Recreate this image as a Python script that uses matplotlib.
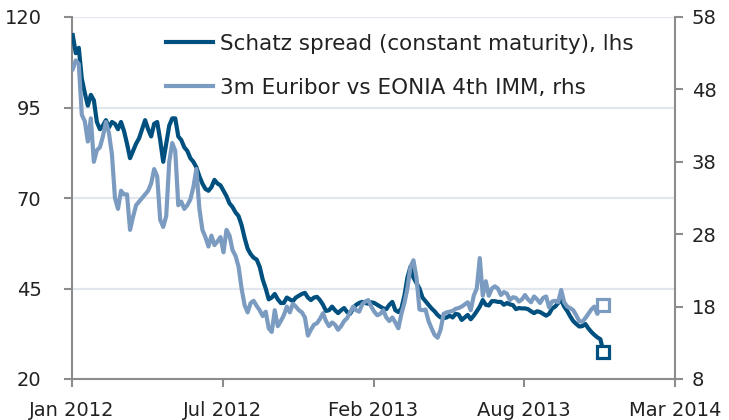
import matplotlib
matplotlib.use("Agg")
import matplotlib.pyplot as plt
import matplotlib.dates as mdates
import pandas as pd

# 4-day sampling, Jan 2012 to Dec 2013
dates = pd.date_range("2012-01-02", periods=177, freq="4D")

schatz = [115, 110, 111.5, 103, 99, 95.5, 98.5, 97, 91, 89,
          90, 91.5, 89.5, 91, 90.5, 89, 91, 88.5, 85, 81,
          83, 85, 86.5, 89, 91.5, 89, 87, 90.5, 91, 86,
          80, 85, 90, 92, 92, 87, 86, 84, 83, 81,
          80, 78.5, 76, 74, 72.5, 72, 73, 75, 74, 73.5,
          72, 70.5, 68.5, 67.5, 66, 65, 62.5, 59, 56, 54.5,
          53.5, 53, 51, 47.5, 45, 42, 42.5, 43.5, 42, 41,
          41, 42.5, 42, 41.5, 42.5, 43, 43.5, 43.8, 42.5, 41.8,
          42.5, 42.7, 41.8, 40.5, 38.8, 39, 40, 39, 38.2, 39,
          39.6, 38.5, 38, 39.5, 40.5, 41, 41.3, 41, 40.8, 41.2,
          41, 40.5, 40, 39.5, 39.3, 40.5, 41.3, 39, 38.5, 39.5,
          43, 48, 51, 48, 46.5, 45, 42.5, 41.5, 40.5, 39.5,
          38.7, 37.7, 37, 36.8, 37, 37.5, 37, 38, 37.8, 36.3,
          37, 37.7, 36.5, 37.5, 38.7, 40, 41.8, 40.5, 40.3, 41.5,
          41.5, 41.3, 41.3, 40.5, 41, 40.6, 40.4, 39.3, 39.6, 39.5,
          39.5, 39.3, 38.7, 38.2, 38.7, 38.5, 38, 37.5, 38, 39.5,
          40, 41, 41.8, 40, 38.8, 37.3, 36, 35.2, 34.5, 34.6,
          35.2, 34, 33, 32.2, 31.5, 31, 27.5]

euribor = [50.8, 52, 51.5, 44.5, 43.6, 40.8, 44, 38, 39.6, 40,
           41.5, 43.5, 42, 39, 33, 31.5, 34, 33.5, 33.5, 28.6,
           30.4, 32, 32.5, 33, 33.5, 34, 35, 37, 36, 30,
           29, 30.5, 38, 40.6, 39.5, 32, 32.5, 31.5, 32, 32.8,
           34.5, 37, 31.5, 28.6, 27.6, 26.3, 27.8, 26.5, 27, 27.6,
           25.5, 28.6, 27.8, 25.8, 25, 23.5, 20.5, 18.2, 17.2, 18.5,
           18.8, 18.1, 17.5, 16.7, 17.3, 15, 14.5, 17.5, 15.3, 16,
           16.8, 18, 17.2, 18.4, 18, 17.5, 17.2, 16.5, 14, 14.8,
           15.5, 15.7, 16.3, 17.1, 16, 15.3, 15.8, 15.5, 14.8, 15.3,
           16, 16.4, 17.2, 18, 17.5, 17.3, 18.3, 18.7, 18.9, 18,
           17.3, 16.8, 17, 17.5, 16.5, 16, 16.5, 15.8, 15, 17,
           18.5, 20.5, 23.5, 24.4, 22, 17.6, 17.5, 17.6, 16, 15,
           14.1, 13.7, 14.8, 17, 17.2, 17.3, 17.4, 17.7, 17.8, 18,
           18.3, 18.6, 17.5, 19.5, 20.5, 24.7, 19.5, 21.5, 19.5, 20.5,
           20.8, 20.5, 19.6, 20, 19.8, 18.9, 19.3, 19.2, 18.7, 19,
           19.6, 19, 18.6, 19.4, 19, 18.5, 19.2, 19.4, 17.9, 18.7,
           18.8, 18.6, 20.3, 18.6, 18, 17.8, 17.5, 16.8, 16, 15.9,
           16.4, 17, 17.6, 18, 17, 18, 18.2]

schatz_label = "Schatz spread (constant maturity), lhs"
euribor_label = "3m Euribor vs EONIA 4th IMM, rhs"
left_ticks = [20, 45, 70, 95, 120]
right_ticks = [8, 18, 28, 38, 48, 58]
x_ticks = pd.date_range("2012-01-01", periods=5, freq="200D")

dark = "#00507f"
light = "#7b9cc0"
axis_grey = "#8c8c8c"
txt = "#222222"

fig = plt.figure(figsize=(7.29, 4.2), dpi=100)
ax = fig.add_axes([72 / 729, 1 - 379 / 420, 603 / 729, 362 / 420])
ax2 = ax.twinx()

l1, = ax.plot(dates, schatz, color=dark, lw=3.0, solid_joinstyle="round", zorder=3)
ax.plot(dates[-1:], schatz[-1:], "s", ms=9, mfc="white", mec=dark, mew=2.3, zorder=4)
l2, = ax2.plot(dates, euribor, color=light, lw=3.0, solid_joinstyle="round", zorder=3)
ax2.plot(dates[-1:], euribor[-1:], "s", ms=9, mfc="white", mec=light, mew=2.3, zorder=4)

ax.set_xlim(x_ticks[0], x_ticks[-1])
ax.set_ylim(20, 120)
ax2.set_ylim(8, 58)
ax.set_yticks(left_ticks)
ax2.set_yticks(right_ticks)
ax.set_xticks(x_ticks)
ax.xaxis.set_major_formatter(mdates.DateFormatter("%b %Y"))

ax.yaxis.grid(True, color="#e2e7ed", lw=1.6)
ax.set_axisbelow(True)

for a in (ax, ax2):
    for s in a.spines.values():
        s.set_visible(False)
for s, a in (("left", ax), ("bottom", ax), ("right", ax2)):
    a.spines[s].set_visible(True)
    a.spines[s].set_color(axis_grey)
    a.spines[s].set_linewidth(1.5)

ax.tick_params(axis="y", direction="out", length=6, width=1.5, color=axis_grey,
               labelsize=14, labelcolor=txt, pad=16)
ax.tick_params(axis="x", direction="out", length=6, width=1.5, color=axis_grey,
               labelsize=14, labelcolor=txt, pad=10)
ax2.tick_params(axis="y", direction="out", length=6, width=1.5, color=axis_grey,
                labelsize=14, labelcolor=txt, pad=6)

leg = fig.legend([l1, l2], [schatz_label, euribor_label], loc="upper left",
                 bbox_to_anchor=(166 / 729, 1 - 34 / 420), frameon=False,
                 fontsize=15.5, handlelength=2.2, handletextpad=0.3,
                 labelspacing=1.1, borderpad=0, borderaxespad=0)
for t in leg.get_texts():
    t.set_color(txt)

fig.savefig("out.png", dpi=100)
